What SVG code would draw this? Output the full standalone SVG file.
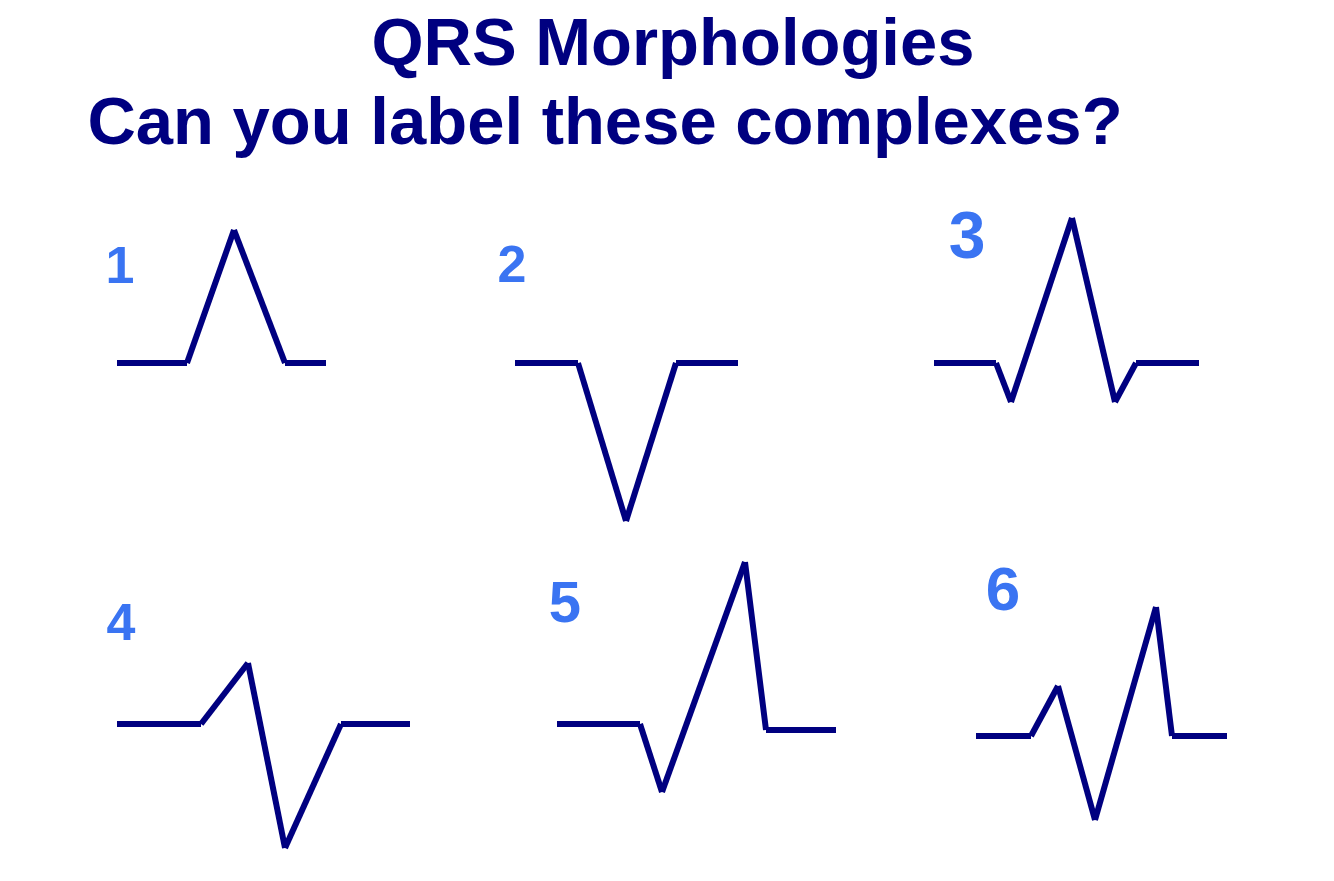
<svg xmlns="http://www.w3.org/2000/svg" width="1334" height="881" viewBox="0 0 1334 881">
<style>
.t{font-family:"Liberation Sans",Arial,sans-serif;font-weight:bold;fill:#000080;font-size:67px;text-anchor:middle}
.n{font-family:"Liberation Sans",Arial,sans-serif;font-weight:bold;fill:#3a74f2}
.w line{stroke:#000080;stroke-width:6;stroke-linecap:butt}
</style>
<rect width="1334" height="881" fill="#ffffff"/>
<g id="title">
<text class="t" x="673" y="65">QRS Morphologies</text>
<text class="t" x="605" y="144">Can you label these complexes?</text>
</g>
<g id="labels">
<text class="n" x="120" y="283" font-size="52" text-anchor="middle">1</text>
<text class="n" x="512" y="282" font-size="52" text-anchor="middle">2</text>
<text class="n" x="967" y="258" font-size="66" text-anchor="middle">3</text>
<text class="n" x="121" y="640" font-size="52" text-anchor="middle">4</text>
<text class="n" x="565" y="622" font-size="58" text-anchor="middle">5</text>
<text class="n" x="1003" y="610" font-size="62" text-anchor="middle">6</text>
</g>
<g id="connectors" class="w">
<g id="complex1">
<line x1="117" y1="363" x2="187" y2="363"/>
<line x1="187" y1="363" x2="234" y2="230"/>
<line x1="234" y1="230" x2="285" y2="363"/>
<line x1="285" y1="363" x2="326" y2="363"/>
</g>
<g id="complex2">
<line x1="515" y1="363" x2="578" y2="363"/>
<line x1="578" y1="363" x2="626" y2="521"/>
<line x1="626" y1="521" x2="676" y2="363"/>
<line x1="676" y1="363" x2="738" y2="363"/>
</g>
<g id="complex3">
<line x1="934" y1="363" x2="996" y2="363"/>
<line x1="996" y1="363" x2="1011" y2="402"/>
<line x1="1011" y1="402" x2="1072" y2="218"/>
<line x1="1072" y1="218" x2="1115" y2="402"/>
<line x1="1115" y1="402" x2="1136" y2="363"/>
<line x1="1136" y1="363" x2="1199" y2="363"/>
</g>
<g id="complex4">
<line x1="117" y1="724" x2="201" y2="724"/>
<line x1="201" y1="724" x2="248" y2="663"/>
<line x1="248" y1="663" x2="285" y2="848"/>
<line x1="285" y1="848" x2="341" y2="724"/>
<line x1="341" y1="724" x2="410" y2="724"/>
</g>
<g id="complex5">
<line x1="557" y1="724" x2="640" y2="724"/>
<line x1="640" y1="724" x2="662" y2="792"/>
<line x1="662" y1="792" x2="745" y2="562"/>
<line x1="745" y1="562" x2="766" y2="730"/>
<line x1="766" y1="730" x2="836" y2="730"/>
</g>
<g id="complex6">
<line x1="976" y1="736" x2="1031" y2="736"/>
<line x1="1031" y1="736" x2="1058" y2="686"/>
<line x1="1058" y1="686" x2="1095" y2="820"/>
<line x1="1095" y1="820" x2="1156" y2="607"/>
<line x1="1156" y1="607" x2="1172" y2="736"/>
<line x1="1172" y1="736" x2="1227" y2="736"/>
</g>
</g>
</svg>
